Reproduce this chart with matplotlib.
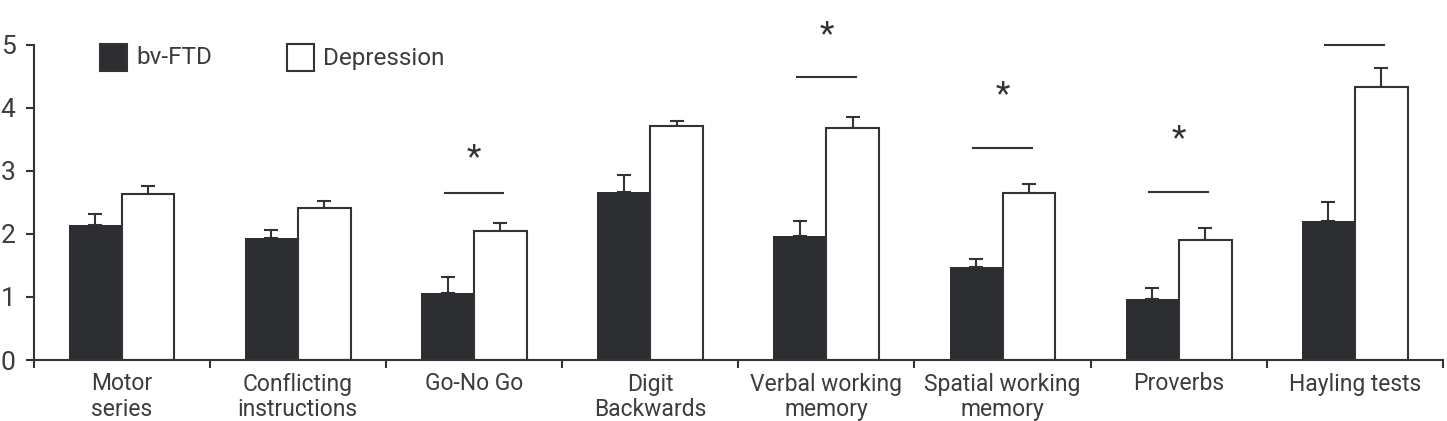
import matplotlib
matplotlib.use("Agg")
import matplotlib.pyplot as plt
from matplotlib.patches import Rectangle
import numpy as np

categories = ["Motor\nseries", "Conflicting\ninstructions", "Go-No Go", "Digit\nBackwards",
              "Verbal working\nmemory", "Spatial working\nmemory", "Proverbs", "Hayling tests"]
ftd_mean = [2.14, 1.93, 1.07, 2.66, 1.97, 1.48, 0.97, 2.21]
ftd_err = [0.17, 0.14, 0.25, 0.27, 0.23, 0.12, 0.17, 0.29]
dep_mean = [2.63, 2.41, 2.04, 3.71, 3.68, 2.65, 1.90, 4.33]
dep_err = [0.13, 0.11, 0.13, 0.09, 0.17, 0.15, 0.20, 0.30]
sig_idx = [2, 4, 5, 6, 7]
sig_line = [2.65, 4.49, 3.37, 2.67, 5.00]
sig_star = [3.20, 5.15, 4.20, 3.50, 5.85]
series_names = ["bv-FTD", "Depression"]

plt.rcParams['font.family'] = ["Roboto", "DejaVu Sans"]
txt_color = "#3c3c3c"
dark = "#2b2d31"
lw = 1.5

fig = plt.figure(figsize=(14.47, 4.21), dpi=100)
ax = fig.add_axes([33.5/1447, (421-360)/421, (1443-33.5)/1447, 315/421])

x = np.arange(len(categories)) + 0.5
w = 0.3
ax.bar(x - w/2, ftd_mean, w, color=dark, edgecolor=dark, linewidth=0, zorder=2)
ax.bar(x + w/2, dep_mean, w, color="white", edgecolor="#333333", linewidth=lw, zorder=2)
ax.errorbar(x - w/2, ftd_mean, yerr=[np.zeros(len(ftd_err)), ftd_err], fmt="none",
            ecolor="#333333", elinewidth=lw, capsize=5, capthick=lw, zorder=1)
ax.errorbar(x + w/2, dep_mean, yerr=[np.zeros(len(dep_err)), dep_err], fmt="none",
            ecolor="#333333", elinewidth=lw, capsize=5, capthick=lw, zorder=1)

for i, ly, sy in zip(sig_idx, sig_line, sig_star):
    ax.plot([x[i] - 0.167, x[i] + 0.167], [ly, ly], color="#333333", lw=lw, clip_on=False)
    ax.text(x[i], sy, "*", ha="center", va="center", fontsize=24, color="#333333", clip_on=False)

ax.set_xlim(0, len(categories))
ax.set_ylim(0, 5)
ax.set_yticks([0, 1, 2, 3, 4, 5])
ax.set_xticks(x)
ax.set_xticklabels(categories, linespacing=1.12)
ax.set_xticks(np.arange(len(categories) + 1), minor=True)
ax.tick_params(axis="x", which="major", length=0, pad=9, labelsize=16.5, labelcolor=txt_color)
ax.tick_params(axis="x", which="minor", length=6, width=lw, direction="out", color="#333333")
ax.tick_params(axis="y", length=6, width=lw, pad=7, labelsize=19, labelcolor=txt_color, color="#333333")
for s in ["top", "right"]:
    ax.spines[s].set_visible(False)
for s in ["left", "bottom"]:
    ax.spines[s].set_linewidth(lw)
    ax.spines[s].set_color("#333333")

leg_items = [(100, 136.5, dark, series_names[0]), (287, 323, "white", series_names[1])]
for bx, tx, col, name in leg_items:
    fig.patches.append(Rectangle((bx/1447, (421-71)/421), 27/1447, 27/421, transform=fig.transFigure,
                                 facecolor=col, edgecolor="#333333", linewidth=lw))
    fig.text(tx/1447, (421-58)/421, name, ha="left", va="center", fontsize=17.5, color=txt_color)

fig.savefig("out.png", dpi=100)
